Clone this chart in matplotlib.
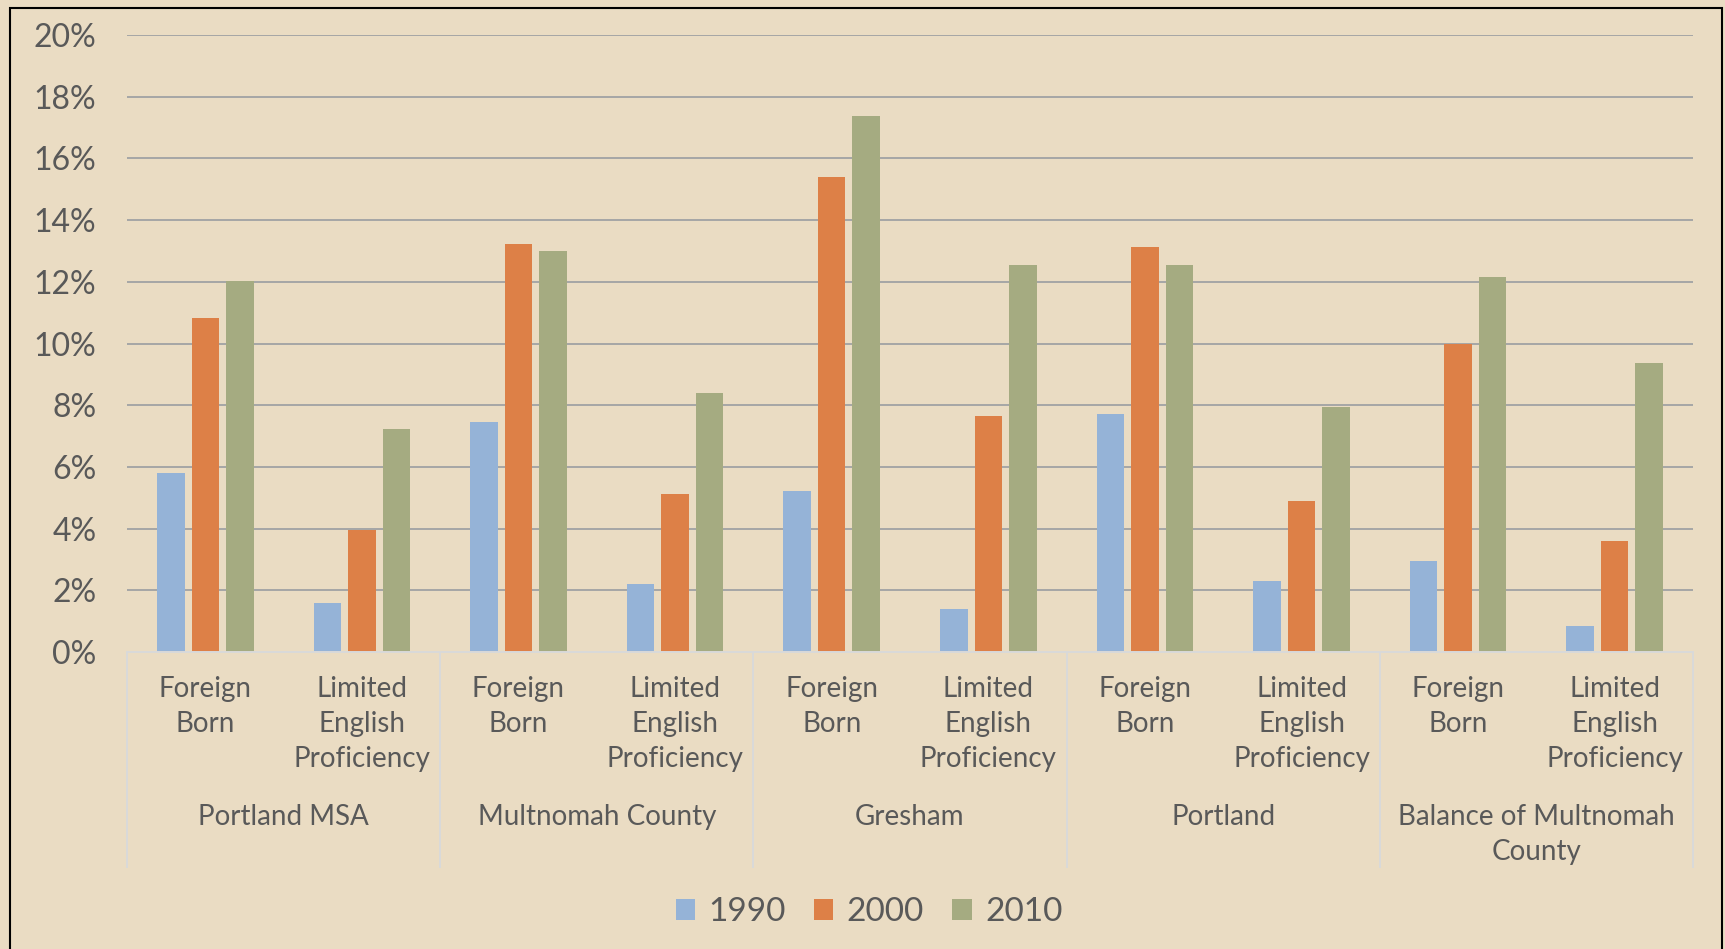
import matplotlib
matplotlib.use("Agg")
import matplotlib.pyplot as plt
import matplotlib.transforms as mtransforms
from matplotlib.patches import Rectangle, Patch
from matplotlib.lines import Line2D

plt.rcParams['font.family'] = ['Lato', 'DejaVu Sans']

regions = ["Portland MSA", "Multnomah County", "Gresham", "Portland", "Balance of Multnomah\nCounty"]
measures = ["Foreign\nBorn", "Limited\nEnglish\nProficiency"]
years = ["1990", "2000", "2010"]

# values in percent, order: region x measure (FB, LEP)
v1990 = [5.8, 1.6, 7.44, 2.2, 5.23, 1.39, 7.72, 2.31, 2.96, 0.83]
v2000 = [10.82, 3.95, 13.24, 5.12, 15.41, 7.65, 13.13, 4.91, 10.0, 3.61]
v2010 = [12.03, 7.22, 12.99, 8.4, 17.37, 12.56, 12.56, 7.94, 12.17, 9.37]
series = [v1990, v2000, v2010]

colors = ["#95B3D7", "#DD8047", "#A5AB81"]
bg = "#EADCC3"
txt = "#595959"

W, H = 1725, 949
fig = plt.figure(figsize=(W / 100, H / 100), dpi=100, facecolor=bg)
ax = fig.add_axes([127 / W, 1 - 652 / H, (1693 - 127) / W, (652 - 35) / H])
ax.set_facecolor(bg)

n = len(regions) * len(measures)
xs = list(range(n))
offs = [-0.22, 0.0, 0.22]
for s, vals, c, o, lab in zip(range(3), series, colors, offs, years):
    ax.bar([x + o for x in xs], vals, width=0.176, color=c, label=lab, zorder=3)

ax.set_xlim(-0.5, n - 0.5)
ax.set_ylim(0, 20)
ax.set_yticks(range(0, 21, 2))
ax.set_yticklabels([f"{t}%" for t in range(0, 21, 2)], fontsize=23, color=txt)
ax.tick_params(axis='y', length=0, pad=22)
ax.tick_params(axis='x', length=0, labelbottom=False)
for sp in ax.spines.values():
    sp.set_visible(False)
for t in range(2, 21, 2):
    ax.axhline(t, color="#A6A6A6", lw=1.4, zorder=1)
ax.axhline(0, color="#D9D9D9", lw=1.4, zorder=4, clip_on=False)

# category labels
trans = mtransforms.blended_transform_factory(ax.transData, fig.transFigure)
for i in range(n):
    ax.text(i, 1 - 676 / H, measures[i % 2], transform=trans, ha='center', va='top',
            fontsize=20, color=txt, linespacing=1.42)
for r, name in enumerate(regions):
    ax.text(2 * r + 0.5, 1 - 804 / H, name, transform=trans, ha='center', va='top',
            fontsize=20, color=txt, linespacing=1.42)
for k in range(len(regions) + 1):
    fig.add_artist(Line2D([2 * k - 0.5, 2 * k - 0.5], [1 - 652 / H, 1 - 867 / H],
                          transform=trans, color="#D9D9D9", lw=1.4))

handles = [Patch(facecolor=c, label=y) for c, y in zip(colors, years)]
fig.legend(handles=handles, loc='center', bbox_to_anchor=(869 / W, 1 - 912 / H), ncol=3,
           frameon=False, fontsize=24, labelcolor=txt, handlelength=0.58, handleheight=0.58,
           handletextpad=0.4, columnspacing=0.85)

fig.add_artist(Rectangle((10 / W, -0.05), (1722 - 10) / W, 1.05 - 8 / H,
                         transform=fig.transFigure, fill=False, edgecolor="black", lw=1.5))

fig.savefig("out.png", dpi=100, facecolor=bg)
